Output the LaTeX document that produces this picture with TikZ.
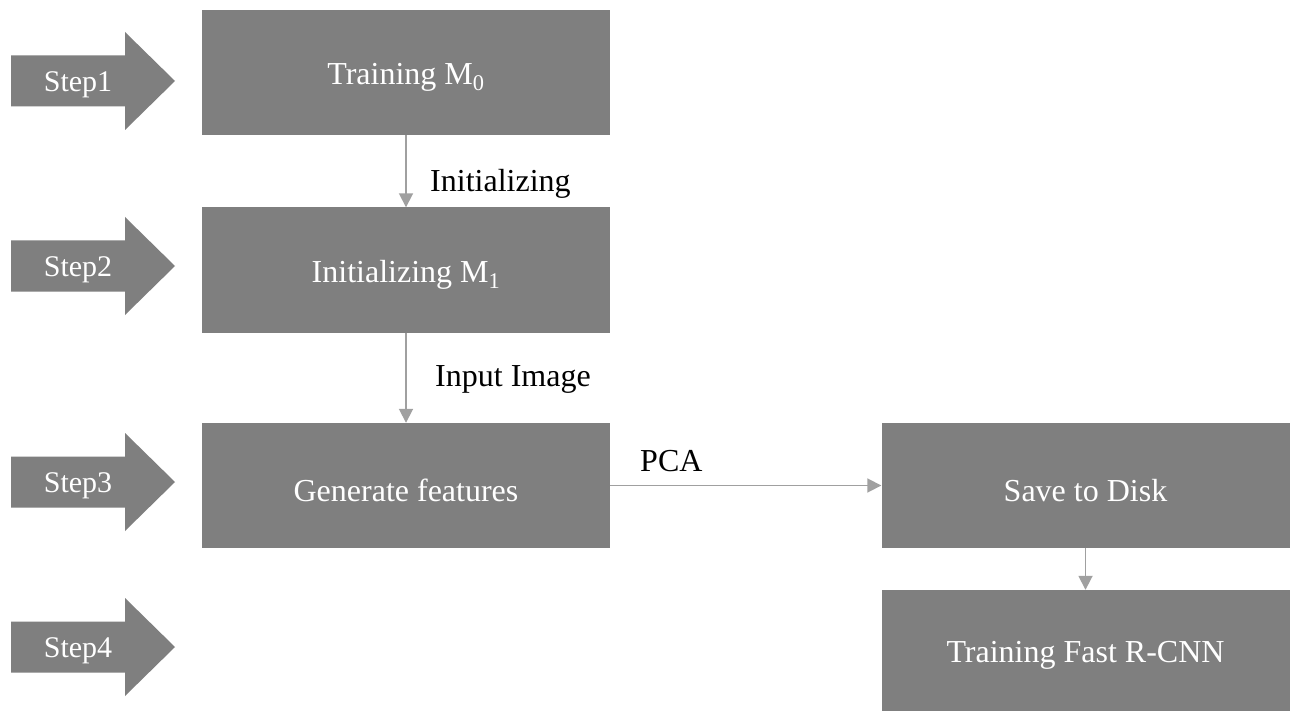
\documentclass[tikz,border=0pt]{standalone}
\usepackage{fontspec}
\setmainfont{Liberation Serif}
\usetikzlibrary{arrows.meta}
\definecolor{boxgray}{HTML}{7F7F7F}
\definecolor{linegray}{HTML}{A0A0A0}
\newcommand{\lowered}[1]{\raisebox{-5pt}[\height][\depth]{#1}}
\begin{document}
\begin{tikzpicture}[x=1pt,y=1pt,
  box/.style={fill=boxgray, text=white, minimum width=408pt, minimum height=125pt, inner sep=0pt, font=\fontsize{32}{38}\selectfont},
  steptext/.style={text=white, inner sep=0pt, font=\fontsize{30}{36}\selectfont},
  lbl/.style={text=black, inner sep=0pt, anchor=west, font=\fontsize{32}{38}\selectfont},
  conn/.style={draw=linegray, line width=1.8pt, -{Triangle[width=14pt,length=14pt]}}
]
\useasboundingbox (0,0) rectangle (1295,-711);
\fill[white] (0,0) rectangle (1295,-711);
% step arrows
\foreach \n/\cy in {1/81,2/266,3/482,4/647}{
  \fill[boxgray] (11,-\cy+25.5) -- (125,-\cy+25.5) -- (125,-\cy+49) -- (175,-\cy) -- (125,-\cy-49) -- (125,-\cy-25.5) -- (11,-\cy-25.5) -- cycle;
  \node[steptext] (step\n) at (78,-\cy-4) {Step\n};
}
% boxes
\node[box] (m0) at (406,-72.5) {\lowered{Training M\textsubscript{0}}};
\node[box] (m1) at (406,-270) {\lowered{Initializing M\textsubscript{1}}};
\node[box] (gen) at (406,-485.5) {\lowered{Generate features}};
\node[box] (disk) at (1085.5,-485.5) {\lowered{Save to Disk}};
\node[box, minimum height=121pt] (frcnn) at (1085.5,-650.5) {\lowered{Training Fast R-CNN}};
% connectors
\draw[conn] (m0.south) -- (m1.north);
\draw[conn] (m1.south) -- (gen.north);
\draw[conn] (gen.east) -- (disk.west);
\draw[conn] (disk.south) -- (frcnn.north);
% labels
\node[lbl] (l1) at (430,-184) {Initializing};
\node[lbl] (l2) at (435,-379) {Input Image};
\node[lbl] (l3) at (640,-461) {PCA};
\end{tikzpicture}
\end{document}
